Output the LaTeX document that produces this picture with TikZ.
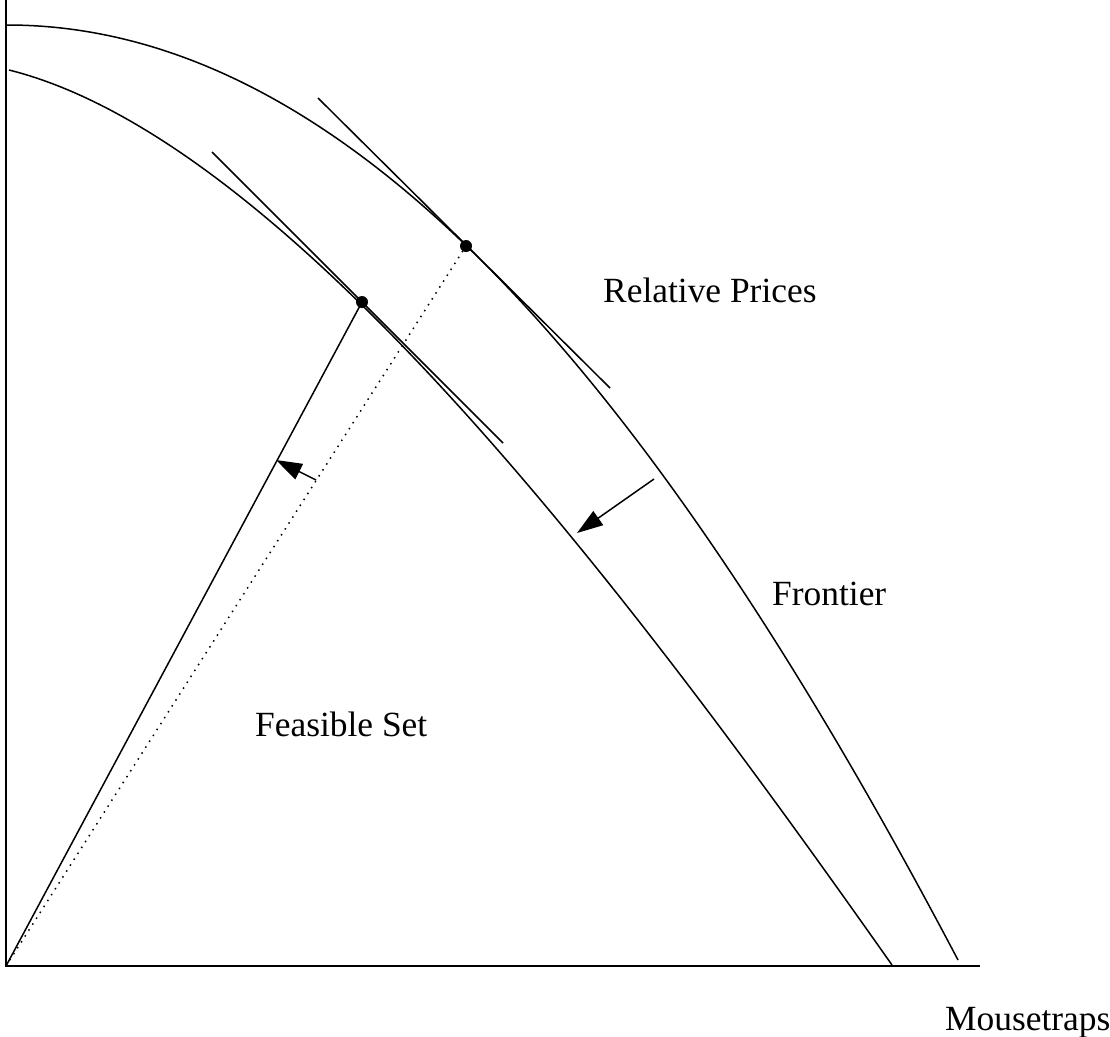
\documentclass[tikz,border=0pt]{standalone}
\usepackage{fontspec}
\setmainfont{Liberation Serif}
\usetikzlibrary{arrows.meta}
\begin{document}
\begin{tikzpicture}[x=1pt,y=-1pt,
  ln/.style={line width=1.5pt},
  dotpt/.style={circle,fill=black,inner sep=0pt,minimum size=12pt},
  lbl/.style={anchor=base west,inner sep=0pt,font=\fontsize{35.4}{40}\selectfont},
  arr/.style={line width=1.5pt,-{Triangle[length=26pt,width=17pt]}}]
\useasboundingbox (0,0) rectangle (1110,1036);
% axes
\coordinate (O) at (6,966);
\coordinate (Ytop) at (6,0);
\coordinate (Xend) at (980,966);
\draw[ln] (Ytop) -- (O) -- (Xend);
% outer frontier
\coordinate (F0) at (7,25);
\coordinate (F1) at (958,960);
\draw[ln] (F0) .. controls (352,25) and (658,390) .. (F1);
% inner frontier
\coordinate (G0) at (9,70);
\coordinate (G1) at (892,965);
\draw[ln] (G0) .. controls (289,140) and (632,595.8) .. (G1);
% tangent lines
\coordinate (TA0) at (318,98);
\coordinate (TA1) at (610,388);
\coordinate (TB0) at (212,152);
\coordinate (TB1) at (503,443);
\draw[ln] (TA0) -- (TA1);
\draw[ln] (TB0) -- (TB1);
% dots
\node[dotpt] (dA) at (466,246) {};
\node[dotpt] (dB) at (362,302) {};
% rays
\draw[ln] (O) -- (dB.center);
\draw[ln,dash pattern=on 1.5pt off 5.5pt] (O) -- (dA.center);
% arrows
\coordinate (a1s) at (316,480);
\coordinate (a1e) at (276,460);
\draw[arr] (a1s) -- (a1e);
\coordinate (a2s) at (654,479);
\coordinate (a2e) at (577,533);
\draw[arr] (a2s) -- (a2e);
% labels
\node[lbl] (rp) at (603,302) {Relative Prices};
\node[lbl] (fr) at (772,605) {Frontier};
\node[lbl] (fs) at (255,736) {Feasible Set};
\node[lbl] (mt) at (945,1030) {Mousetraps};
\end{tikzpicture}
\end{document}
